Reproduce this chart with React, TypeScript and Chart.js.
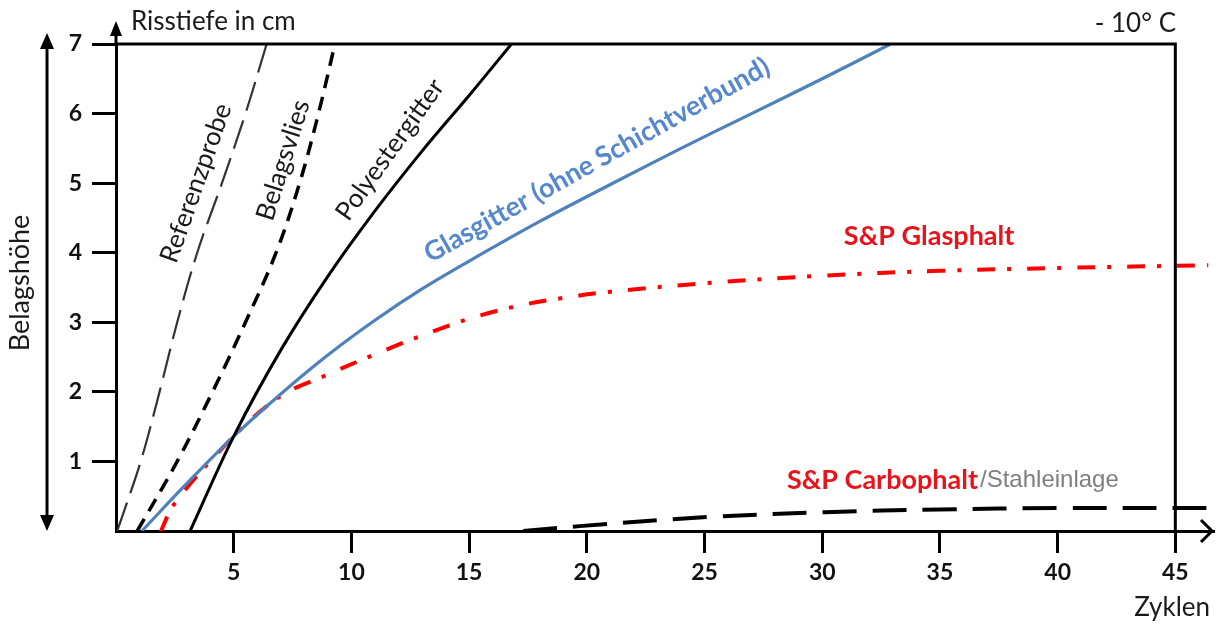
import React, { useEffect, useRef } from "react";
import { Chart, registerables } from "chart.js";

Chart.register(...registerables);

// ---- axis ticks ----
const xTickValues = [5, 10, 15, 20, 25, 30, 35, 40, 45];
const yTickValues = [1, 2, 3, 4, 5, 6, 7];
const X_MAX = 46.6;
const Y_MAX = 7;
const FRAME_X = 45;

// ---- series (Zyklen -> Risstiefe in cm) ----
const referenzX = [0.05, 1.05, 1.85, 2.6, 3.45, 4.5, 5.5, 6.4];
const referenzY = [0, 1, 2, 3, 4, 5, 6, 7];

const vliesX = [0.9, 2.6, 4.1, 5.5, 6.8, 7.8, 8.6, 9.3];
const vliesY = [0, 1, 2, 3, 4, 5, 6, 7.0];

const polyX = [3.15, 5.0, 7.0, 9.0, 11.0, 13.0, 15.0, 16.8];
const polyY = [0, 1.36, 2.6, 3.66, 4.6, 5.46, 6.26, 7.0];

const glasX = [1.1, 3.0, 5.0, 7.0, 9.0, 11.0, 13.0, 15.0, 18.0, 21.0, 24.0, 27.0, 30.0, 32.9];
const glasY = [0, 0.68, 1.36, 1.97, 2.53, 3.03, 3.48, 3.88, 4.45, 4.98, 5.5, 6.0, 6.5, 7.0];

const glasphaltX = [1.87, 2.5, 5.0, 7.0, 9.0, 11.0, 13.0, 15.0, 17.0, 19.0, 21.0, 25.0, 30.0, 35.0, 40.0, 46.4];
const glasphaltY = [-0.03, 0.4, 1.36, 1.94, 2.25, 2.54, 2.81, 3.05, 3.23, 3.35, 3.44, 3.56, 3.67, 3.74, 3.78, 3.82];

const carboX = [17.3, 19.7, 25.1, 30.1, 35, 40, 46.6];
const carboY = [0, 0.07, 0.2, 0.27, 0.31, 0.33, 0.33];

const zip = (xs: number[], ys: number[]) => xs.map((x, i) => ({ x, y: ys[i] }));

// ---- annotation labels (anchored in data space) ----
const curveLabels = [
  { text: "Referenzprobe", x: 3.4, y: 5.0, angle: -70.5, font: "26px Lato", color: "#1a1a1a" },
  { text: "Belagsvlies", x: 7.1, y: 5.33, angle: -72.5, font: "26px Lato", color: "#1a1a1a" },
  { text: "Polyestergitter", x: 11.64, y: 5.48, angle: -54.5, font: "26px Lato", color: "#1a1a1a" },
  { text: "Glasgitter (ohne Schichtverbund)", x: 20.43, y: 5.33, angle: -29.2, font: "bold 27px Lato", color: "#5588cc" },
  { text: "S&P Glasphalt", x: 34.54, y: 4.23, angle: 0, font: "bold 27px Lato", color: "#e8141c" },
];

const decorPlugin = {
  id: "decor",
  afterDatasetsDraw(chart: any) {
    const { ctx, scales } = chart;
    const xs = scales.x;
    const ys = scales.y;
    ctx.save();
    ctx.textBaseline = "middle";
    ctx.textAlign = "center";
    for (const l of curveLabels) {
      const px = xs.getPixelForValue(l.x);
      const py = ys.getPixelForValue(l.y);
      ctx.save();
      ctx.translate(px, py);
      ctx.rotate((l.angle * Math.PI) / 180);
      ctx.font = l.font;
      ctx.fillStyle = l.color;
      ctx.fillText(l.text, 0, 0);
      ctx.restore();
    }
    // Carbophalt label (two styles)
    const cx = xs.getPixelForValue(28.5);
    const cy = ys.getPixelForValue(0.73);
    ctx.textAlign = "left";
    ctx.font = "bold 27px Lato";
    ctx.fillStyle = "#e8141c";
    ctx.fillText("S&P Carbophalt", cx, cy);
    const w = ctx.measureText("S&P Carbophalt").width;
    ctx.font = "24px 'Liberation Sans'";
    ctx.fillStyle = "#7f7f7f";
    ctx.fillText("/Stahleinlage", cx + w + 2, cy);
    ctx.restore();
  },
  afterDraw(chart: any) {
    const { ctx, scales, chartArea } = chart;
    const xs = scales.x;
    const ys = scales.y;
    const left = chartArea.left;
    const bottom = chartArea.bottom;
    const top = ys.getPixelForValue(Y_MAX);
    const fx = xs.getPixelForValue(FRAME_X);
    ctx.save();
    ctx.strokeStyle = "#000";
    ctx.fillStyle = "#000";
    ctx.lineWidth = 3;
    ctx.lineCap = "butt";
    // frame top and right
    ctx.beginPath();
    ctx.moveTo(left, top);
    ctx.lineTo(fx, top);
    ctx.lineTo(fx, bottom);
    ctx.stroke();
    // y axis extension + arrow
    ctx.beginPath();
    ctx.moveTo(left, top);
    ctx.lineTo(left, 32);
    ctx.stroke();
    ctx.beginPath();
    ctx.moveTo(left, 21);
    ctx.lineTo(left - 6, 36);
    ctx.lineTo(left + 6, 36);
    ctx.closePath();
    ctx.fill();
    // x axis arrow (open chevron)
    const xr = chartArea.right;
    ctx.beginPath();
    ctx.moveTo(xr - 12, bottom - 11);
    ctx.lineTo(xr - 1, bottom);
    ctx.lineTo(xr - 12, bottom + 11);
    ctx.stroke();
    // left double arrow (Belagshöhe)
    const ax = 47;
    ctx.beginPath();
    ctx.moveTo(ax, 44);
    ctx.lineTo(ax, 520);
    ctx.stroke();
    ctx.beginPath();
    ctx.moveTo(ax, 33);
    ctx.lineTo(ax - 7, 49);
    ctx.lineTo(ax + 7, 49);
    ctx.closePath();
    ctx.fill();
    ctx.beginPath();
    ctx.moveTo(ax, 531);
    ctx.lineTo(ax - 7, 515);
    ctx.lineTo(ax + 7, 515);
    ctx.closePath();
    ctx.fill();
    // texts
    ctx.fillStyle = "#1a1a1a";
    ctx.font = "26px Lato";
    ctx.textBaseline = "alphabetic";
    ctx.textAlign = "left";
    ctx.fillText("Risstiefe in cm", 131, 30);
    ctx.textAlign = "right";
    ctx.fillText("- 10° C", 1176, 32);
    ctx.fillText("Zyklen", 1210, 616);
    ctx.save();
    ctx.translate(20, 283);
    ctx.rotate(-Math.PI / 2);
    ctx.textAlign = "center";
    ctx.textBaseline = "middle";
    ctx.font = "27px Lato";
    ctx.fillText("Belagshöhe", 0, 0);
    ctx.restore();
    ctx.restore();
  },
};

export default function App() {
  const ref = useRef<HTMLCanvasElement>(null);
  useEffect(() => {
    const tickFont = { family: "Lato", weight: "bold" as const, size: 23 };
    const chart = new Chart(ref.current as HTMLCanvasElement, {
      type: "line",
      data: {
        datasets: [
          {
            label: "Referenzprobe",
            data: zip(referenzX, referenzY),
            borderColor: "#333",
            borderWidth: 2.2,
            borderDash: [30, 10],
          },
          {
            label: "Belagsvlies",
            data: zip(vliesX, vliesY),
            borderColor: "#000",
            borderWidth: 3.5,
            borderDash: [14, 9],
          },
          {
            label: "Polyestergitter",
            data: zip(polyX, polyY),
            borderColor: "#000",
            borderWidth: 3,
          },
          {
            label: "Glasgitter (ohne Schichtverbund)",
            data: zip(glasX, glasY),
            borderColor: "#4f81bd",
            borderWidth: 3.2,
          },
          {
            label: "S&P Glasphalt",
            data: zip(glasphaltX, glasphaltY),
            borderColor: "#ff0000",
            borderWidth: 4,
            borderDash: [18, 12, 4, 16],
          },
          {
            label: "S&P Carbophalt",
            data: zip(carboX, carboY),
            borderColor: "#000",
            borderWidth: 4,
            borderDash: [34, 16],
          },
        ] as any,
      },
      options: {
        responsive: false,
        animation: false,
        events: [],
        layout: { padding: { left: 0, right: 3, top: 44, bottom: 0 } },
        plugins: { legend: { display: false }, tooltip: { enabled: false } },
        elements: {
          point: { radius: 0 },
          line: { tension: 0.35, fill: false },
        },
        scales: {
          x: {
            type: "linear",
            min: 0,
            max: X_MAX,
            afterBuildTicks: (s: any) => {
              s.ticks = xTickValues.map((v) => ({ value: v }));
            },
            afterFit: (s: any) => {
              s.height = 93;
            },
            ticks: { font: tickFont, color: "#111", padding: 6, callback: (v: any) => String(v) },
            grid: { drawOnChartArea: false, drawTicks: true, tickLength: 22, lineWidth: 3, color: "#000" },
            border: { display: true, color: "#000", width: 3 },
          },
          y: {
            type: "linear",
            min: 0,
            max: Y_MAX,
            afterBuildTicks: (s: any) => {
              s.ticks = yTickValues.map((v) => ({ value: v }));
            },
            afterFit: (s: any) => {
              s.width = 116;
            },
            ticks: { font: tickFont, color: "#111", padding: 10, callback: (v: any) => String(v) },
            grid: { drawOnChartArea: false, drawTicks: true, tickLength: 24, lineWidth: 3, color: "#000" },
            border: { display: true, color: "#000", width: 3 },
          },
        },
      } as any,
      plugins: [decorPlugin],
    });
    return () => chart.destroy();
  }, []);
  return (
    <div style={{ position: "fixed", left: 0, top: 0, width: 1216, height: 624, background: "#fff" }}>
      <canvas ref={ref} width={1216} height={624} style={{ display: "block" }} />
    </div>
  );
}
